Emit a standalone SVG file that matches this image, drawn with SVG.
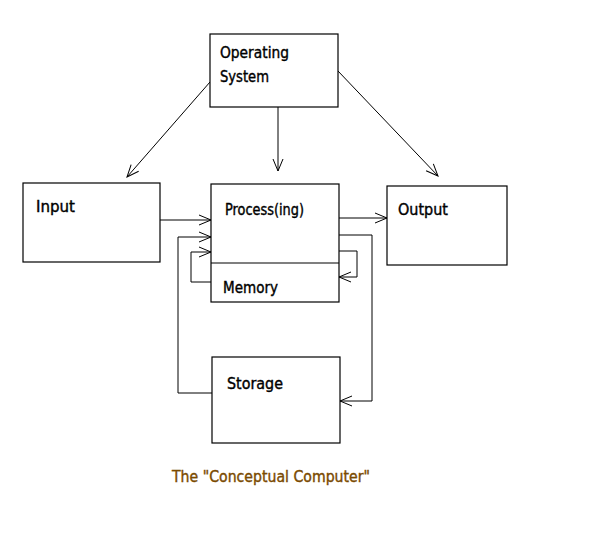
<svg xmlns="http://www.w3.org/2000/svg" width="605" height="550" viewBox="0 0 605 550">
<defs>
<style>
.box{fill:#fff;stroke:#000;stroke-width:1.2}
.t{font-family:"DejaVu Sans","Liberation Sans",sans-serif;font-size:15px;fill:#000;stroke:#000;stroke-width:0.4}
.cap{font-family:"DejaVu Sans","Liberation Sans",sans-serif;font-size:15px;fill:#7a4a00;stroke:#7a4a00;stroke-width:0.4}
.c{fill:none;stroke:#000;stroke-width:1}
</style>
<marker id="ah" markerUnits="userSpaceOnUse" markerWidth="16" markerHeight="14" refX="13" refY="6" orient="auto" viewBox="0 0 16 12">
<path d="M1,1 L13,6 L1,11" fill="none" stroke="#000" stroke-width="1"/>
</marker>
</defs>
<rect width="605" height="550" fill="#fff"/>
<g id="connectors">
<line class="c" x1="210" y1="82" x2="127" y2="177" marker-end="url(#ah)"/>
<line class="c" x1="278" y1="107" x2="278" y2="171" marker-end="url(#ah)"/>
<line class="c" x1="338" y1="71" x2="438" y2="176" marker-end="url(#ah)"/>
<line class="c" x1="160" y1="220" x2="211" y2="220" marker-end="url(#ah)"/>
<line class="c" x1="339" y1="218" x2="387" y2="218" marker-end="url(#ah)"/>
<polyline class="c" points="212,393 178,393 178,237 211,237" marker-end="url(#ah)"/>
<polyline class="c" points="211,282 191,282 191,252 211,252" marker-end="url(#ah)"/>
<polyline class="c" points="339,251 357,251 357,277 339,277" marker-end="url(#ah)"/>
<polyline class="c" points="339,235 372,235 372,401 340,401" marker-end="url(#ah)"/>
</g>
<g id="os">
<rect class="box" x="210" y="34" width="128" height="73"/>
<text class="t" x="220" y="58" textLength="69" lengthAdjust="spacingAndGlyphs">Operating</text>
<text class="t" x="220" y="82" textLength="49" lengthAdjust="spacingAndGlyphs">System</text>
</g>
<g id="input">
<rect class="box" x="23" y="183" width="137" height="79"/>
<text class="t" x="36" y="212" textLength="39" lengthAdjust="spacingAndGlyphs">Input</text>
</g>
<g id="process">
<rect class="box" x="211" y="184" width="128" height="118"/>
<line class="box" x1="211" y1="263" x2="339" y2="263"/>
<text class="t" x="225" y="215" textLength="79" lengthAdjust="spacingAndGlyphs">Process(ing)</text>
<text class="t" x="223" y="293" textLength="55" lengthAdjust="spacingAndGlyphs">Memory</text>
</g>
<g id="output">
<rect class="box" x="387" y="186" width="120" height="79"/>
<text class="t" x="398" y="215" textLength="50" lengthAdjust="spacingAndGlyphs">Output</text>
</g>
<g id="storage">
<rect class="box" x="212" y="357" width="128" height="86"/>
<text class="t" x="227" y="389" textLength="56" lengthAdjust="spacingAndGlyphs">Storage</text>
</g>
<g id="caption">
<text class="cap" x="172" y="482" textLength="198" lengthAdjust="spacingAndGlyphs">The "Conceptual Computer"</text>
</g>
</svg>
